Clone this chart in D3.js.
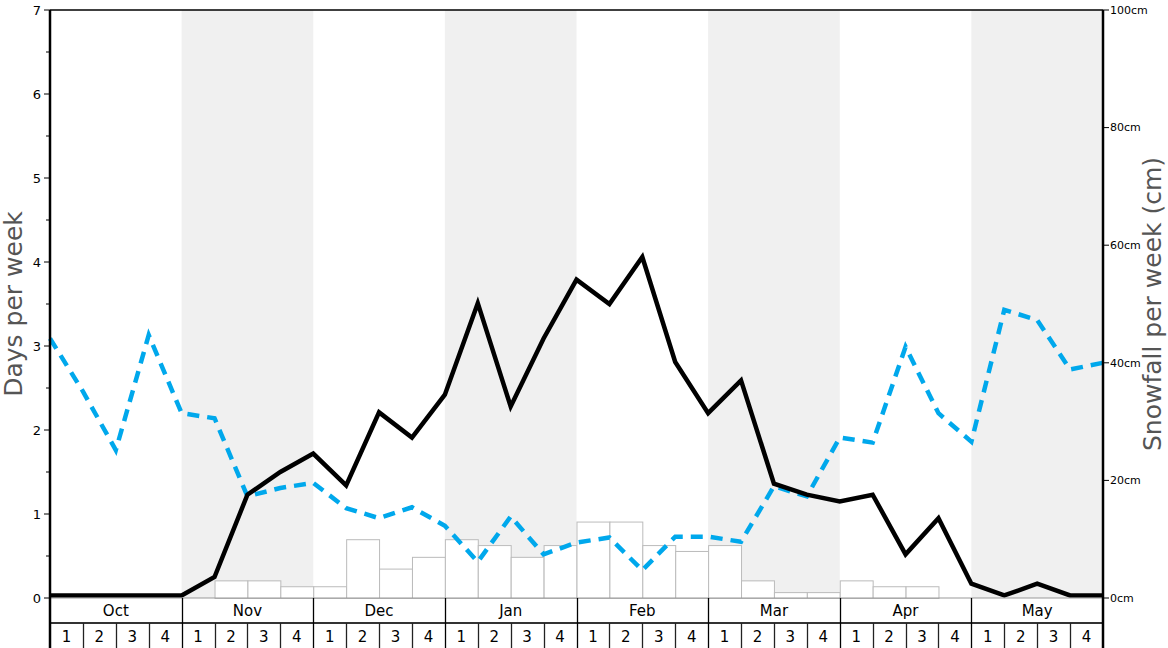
<!DOCTYPE html>
<html>
<head>
<meta charset="utf-8">
<script src="https://cdn.jsdelivr.net/npm/d3@7"></script>
<style>
  html, body { margin: 0; padding: 0; background: #fff; }
  svg { display: block; font-family: "DejaVu Sans", sans-serif; }
</style>
</head>
<body>
<div id="chart"></div>
<script>
/* Snow forecast chart: days per week (lines) and snowfall per week (bars) */

const MONTHS = ["Oct", "Nov", "Dec", "Jan", "Feb", "Mar", "Apr", "May"];
const WEEK_LABELS = ["1", "2", "3", "4"];

// snowfall per week, cm (one per week, 32 weeks)
const SNOW_CM = [
  0, 0, 0, 0,   0, 3, 3, 2,   2, 10, 5, 7,   10, 9, 7, 9,
  13, 13, 9, 8,  9, 3, 1, 1,   3, 2, 2, 0,   0, 0, 0, 0,
];
// days per week, black solid line (at week boundaries, 33 points)
const DAYS_SOLID = [
  0.03, 0.03, 0.03, 0.03, 0.03, 0.25, 1.23, 1.5, 1.72, 1.34, 2.21, 1.91,
  2.42, 3.51, 2.28, 3.09, 3.79, 3.5, 4.06, 2.81, 2.2, 2.59, 1.36, 1.23,
  1.15, 1.23, 0.52, 0.95, 0.17, 0.03, 0.17, 0.03, 0.03,
];
// days per week, blue dashed line
const DAYS_DASHED = [
  3.09, 2.46, 1.76, 3.13, 2.2, 2.14, 1.21, 1.31, 1.37, 1.07, 0.95, 1.08,
  0.86, 0.43, 0.97, 0.52, 0.66, 0.72, 0.33, 0.73, 0.73, 0.67, 1.33, 1.21,
  1.91, 1.85, 2.99, 2.2, 1.86, 3.43, 3.31, 2.72, 2.8,
];
const LEFT_TICKS = [0, 1, 2, 3, 4, 5, 6, 7];
const RIGHT_TICKS = [0, 20, 40, 60, 80, 100];

const W = 1168, H = 648;
const L = 50, R = 1103, T = 10, B = 598;
const ROW1 = 623;   // boundary between month row and week row
const nWeeks = MONTHS.length * WEEK_LABELS.length;

const svg = d3.select("#chart").append("svg")
  .attr("width", W).attr("height", H);

const x = d3.scaleLinear().domain([0, nWeeks]).range([L, R]);
const yDays = d3.scaleLinear().domain([0, 7]).range([B, T]);
const ySnow = d3.scaleLinear().domain([0, 100]).range([B, T]);

// alternate month shading
svg.append("g").selectAll("rect")
  .data(MONTHS.map((m, i) => i).filter((i) => i % 2 === 1))
  .join("rect")
  .attr("x", (i) => x(i * 4)).attr("y", T)
  .attr("width", (i) => x(i * 4 + 4) - x(i * 4)).attr("height", B - T)
  .attr("fill", "#f0f0f0");

// snowfall bars
svg.append("g").selectAll("rect")
  .data(SNOW_CM.map((v, i) => ({ v, i })).filter((d) => d.v > 0))
  .join("rect")
  .attr("x", (d) => x(d.i) + 0.5).attr("y", (d) => ySnow(d.v) + 0.5)
  .attr("width", (d) => x(d.i + 1) - x(d.i))
  .attr("height", (d) => B - ySnow(d.v))
  .attr("fill", "#fff").attr("stroke", "#bbb").attr("stroke-width", 1);

// lines
const line = d3.line().x((d, i) => x(i)).y((d) => yDays(d));
svg.append("path").datum(DAYS_DASHED)
  .attr("d", line).attr("fill", "none")
  .attr("stroke", "#00a8ec").attr("stroke-width", 4.5)
  .attr("stroke-dasharray", "12,8");
svg.append("path").datum(DAYS_SOLID)
  .attr("d", line).attr("fill", "none")
  .attr("stroke", "#000").attr("stroke-width", 4.5);

// frame
svg.append("line").attr("x1", L).attr("x2", R).attr("y1", T).attr("y2", T)
  .attr("stroke", "#000").attr("stroke-width", 1.5);
svg.append("line").attr("x1", L).attr("x2", R).attr("y1", B).attr("y2", B)
  .attr("stroke", "#999").attr("stroke-width", 1);

// left axis
const gl = svg.append("g");
gl.selectAll("line.major").data(LEFT_TICKS).join("line")
  .attr("x1", L - 6).attr("x2", L).attr("y1", yDays).attr("y2", yDays)
  .attr("stroke", "#000");
gl.selectAll("line.minor").data(LEFT_TICKS.slice(0, -1).map((d) => d + 0.5)).join("line")
  .attr("x1", L - 4).attr("x2", L).attr("y1", yDays).attr("y2", yDays)
  .attr("stroke", "#000");
gl.selectAll("text").data(LEFT_TICKS).join("text")
  .attr("x", L - 9).attr("y", yDays).attr("dy", "0.35em")
  .attr("text-anchor", "end").style("font-size", "13px").text((d) => d);
svg.append("text")
  .attr("transform", `translate(22,${(T + B) / 2}) rotate(-90)`)
  .attr("text-anchor", "middle").style("font-size", "25px").attr("fill", "#555")
  .text("Days per week");

// right axis
const gr = svg.append("g");
gr.selectAll("line").data(RIGHT_TICKS).join("line")
  .attr("x1", R).attr("x2", R + 6).attr("y1", ySnow).attr("y2", ySnow)
  .attr("stroke", "#000");
gr.selectAll("text").data(RIGHT_TICKS).join("text")
  .attr("x", R + 7).attr("y", ySnow).attr("dy", "0.35em")
  .style("font-size", "11px").text((d) => `${d}cm`);
svg.append("text")
  .attr("transform", `translate(1161,${(T + B) / 2}) rotate(-90)`)
  .attr("text-anchor", "middle").style("font-size", "25px").attr("fill", "#555")
  .text("Snowfall per week (cm)");

// month / week rows
const gm = svg.append("g");
gm.append("line").attr("x1", L).attr("x2", R).attr("y1", ROW1).attr("y2", ROW1)
  .attr("stroke", "#333").attr("stroke-width", 2);
gm.selectAll("line.wk").data(d3.range(1, nWeeks).filter((i) => i % 4 !== 0)).join("line")
  .attr("x1", (i) => Math.round(x(i)) + 0.5).attr("x2", (i) => Math.round(x(i)) + 0.5)
  .attr("y1", ROW1).attr("y2", H).attr("stroke", "#222").attr("stroke-width", 1.3);
gm.selectAll("line.mo").data(d3.range(1, MONTHS.length)).join("line")
  .attr("x1", (i) => Math.round(x(i * 4)) + 0.5).attr("x2", (i) => Math.round(x(i * 4)) + 0.5)
  .attr("y1", B).attr("y2", H).attr("stroke", "#000").attr("stroke-width", 1.3);
gm.selectAll("text.mo").data(MONTHS).join("text")
  .attr("x", (d, i) => x(i * 4 + 2)).attr("y", (B + ROW1) / 2).attr("dy", "0.35em")
  .attr("text-anchor", "middle").style("font-size", "15px").text((d) => d);
gm.selectAll("text.wk").data(d3.range(nWeeks)).join("text")
  .attr("x", (i) => x(i + 0.5)).attr("y", (ROW1 + H) / 2 + 1).attr("dy", "0.35em")
  .attr("text-anchor", "middle").style("font-size", "15px")
  .text((i) => WEEK_LABELS[i % 4]);

// vertical axis lines drawn last
svg.append("line").attr("x1", L).attr("x2", L).attr("y1", T).attr("y2", H)
  .attr("stroke", "#000").attr("stroke-width", 2.5);
svg.append("line").attr("x1", R).attr("x2", R).attr("y1", T).attr("y2", H)
  .attr("stroke", "#000").attr("stroke-width", 2.5);
</script>
</body>
</html>
